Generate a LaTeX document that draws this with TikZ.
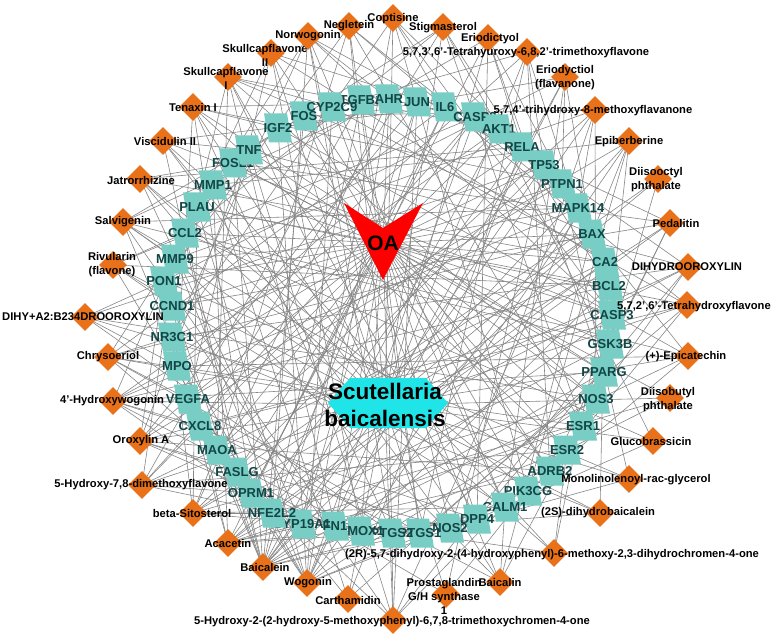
\documentclass[tikz,border=0pt]{standalone}
\usepackage{fontspec}
\setmainfont{Liberation Sans}
\usetikzlibrary{shapes.geometric}
\definecolor{edgec}{RGB}{135,135,135}
\definecolor{orng}{HTML}{E8711A}
\definecolor{tealbox}{HTML}{78CDC4}
\definecolor{tealtxt}{HTML}{124646}
\definecolor{cyanfill}{HTML}{20E5E8}
\definecolor{oared}{HTML}{FF0000}
\pgfdeclarelayer{back}
\pgfdeclarelayer{bg}
\pgfsetlayers{back,bg,main}
\tikzset{
  edge/.style={draw=edgec, line width=0.6pt},
  cmpd/.style={diamond, fill=orng, minimum width=28pt, minimum height=28pt, inner sep=0pt, shape aspect=1},
  clab/.style={font=\fontsize{11.2}{14}\selectfont\bfseries, text=black, align=center, inner sep=0pt},
  tlab/.style={font=\fontsize{13}{14}\selectfont\bfseries, text=tealtxt, inner sep=0pt},
  tbox/.style={fill=tealbox},
  hublab/.style={font=\fontsize{22.5}{27}\selectfont\bfseries, text=black, align=center, inner sep=0pt},
  oalab/.style={font=\fontsize{21}{24}\selectfont\bfseries, text=black, inner sep=0pt},
}
\newcommand\tgt[4]{%
  \fill[tbox] (#2-14,#3-14.5) -- (#2+9,#3-14.5) -- (#2+14,#3+14.5) -- (#2-9,#3+14.5) -- cycle;
  \node[tlab] (#1) at (#2,#3) {#4};}
\newcommand\cmp[6]{%
  \node[cmpd] (#1) at (#2,#3) {};
  \node[clab] (#1l) at (#4,#5) {#6};}
\begin{document}
\begin{tikzpicture}[x=1pt,y=-1pt]
\useasboundingbox (0,0) rectangle (776,639);
\begin{pgfonlayer}{back}
\fill[white] (0,0) rectangle (776,639);
\end{pgfonlayer}
% targets
\tgt{t48}{361}{100}{TGFB1}
\tgt{t1}{389}{99}{AHR}
\tgt{t2}{417}{102}{JUN}
\tgt{t3}{445}{107}{IL6}
\tgt{t4}{475}{117}{CASP8}
\tgt{t5}{499}{129}{AKT1}
\tgt{t6}{522}{147}{RELA}
\tgt{t7}{544}{165}{TP53}
\tgt{t8}{562}{184}{PTPN1}
\tgt{t9}{578}{208}{MAPK14}
\tgt{t10}{592}{234}{BAX}
\tgt{t11}{605}{262}{CA2}
\tgt{t12}{609}{286}{BCL2}
\tgt{t13}{612}{315}{CASP3}
\tgt{t14}{610}{344}{GSK3B}
\tgt{t15}{604}{372}{PPARG}
\tgt{t16}{596}{399}{NOS3}
\tgt{t17}{583}{426}{ESR1}
\tgt{t18}{567}{450}{ESR2}
\tgt{t19}{550}{471}{ADRB2}
\tgt{t20}{528}{491}{PIK3CG}
\tgt{t21}{505}{507}{CALM1}
\tgt{t22}{477}{519}{DPP4}
\tgt{t23}{450}{528}{NOS2}
\tgt{t24}{420}{533}{PTGS1}
\tgt{t25}{392}{533}{PTGS2}
\tgt{t26}{361}{531}{HMOX1}
\tgt{t27}{335}{526}{FN1}
\tgt{t28}{302}{524}{CYP19A1}
\tgt{t29}{272}{513}{NFE2L2}
\tgt{t30}{251}{493}{OPRM1}
\tgt{t31}{237}{472}{FASLG}
\tgt{t32}{217}{450}{MAOA}
\tgt{t33}{200}{426}{CXCL8}
\tgt{t34}{188}{399}{VEGFA}
\tgt{t35}{177}{366}{MPO}
\tgt{t36}{172}{337}{NR3C1}
\tgt{t37}{172}{306}{CCND1}
\tgt{t38}{164}{281}{PON1}
\tgt{t39}{175}{259}{MMP9}
\tgt{t40}{185}{233}{CCL2}
\tgt{t41}{197}{207}{PLAU}
\tgt{t42}{213}{185}{MMP1}
\tgt{t43}{233}{163}{FOSL1}
\tgt{t44}{249}{150}{TNF}
\tgt{t45}{278}{128}{IGF2}
\tgt{t46}{304}{116}{FOS}
\tgt{t47}{332}{107}{CYP2C9}
% compounds
\cmp{c1}{393}{18}{393}{19}{Coptisine}
\cmp{c2}{443}{27}{443}{28}{Stigmasterol}
\cmp{c3}{488}{38}{490}{39}{Eriodictyol}
\cmp{c4}{527}{52}{526}{53}{5,7,3',6'-Tetrahyuroxy-6,8,2'-trimethoxyflavone}
\cmp{c5}{565}{77}{565}{78}{Eriodyctiol\\(flavanone)}
\cmp{c6}{595}{110}{593}{111}{5,7,4'-trihydroxy-8-methoxyflavanone}
\cmp{c7}{629}{141}{629}{142}{Epiberberine}
\cmp{c8}{658}{179}{656}{180}{Diisooctyl\\phthalate}
\cmp{c9}{670}{223}{676}{223}{Pedalitin}
\cmp{c10}{688}{267}{687}{267}{DIHYDROOROXYLIN}
\cmp{c11}{687}{305}{694}{307}{5,7,2',6'-Tetrahydroxyflavone}
\cmp{c12}{688}{356}{686}{357}{(+)-Epicatechin}
\cmp{c13}{670}{398}{668}{400}{Diisobutyl\\phthalate}
\cmp{c14}{653}{441}{651}{441}{Glucobrassicin}
\cmp{c15}{629}{479}{636}{480}{Monolinolenoyl-rac-glycerol}
\cmp{c16}{600}{513}{598}{513}{(2S)-dihydrobaicalein}
\cmp{c17}{554}{553}{552}{555}{(2R)-5,7-dihydroxy-2-(4-hydroxyphenyl)-6-methoxy-2,3-dihydrochromen-4-one}
\cmp{c18}{500}{582}{500}{582}{Baicalin}
\cmp{c19}{446}{594}{444}{596}{Prostaglandin\\G/H synthase\\1}
\cmp{c20}{393}{620}{392}{622}{5-Hydroxy-2-(2-hydroxy-5-methoxyphenyl)-6,7,8-trimethoxychromen-4-one}
\cmp{c21}{348}{599}{348}{600}{Carthamidin}
\cmp{c22}{307}{583}{308}{583}{Wogonin}
\cmp{c23}{263}{567}{265}{567}{Baicalein}
\cmp{c24}{228}{543}{228}{543}{Acacetin}
\cmp{c25}{193}{513}{192}{513}{beta-Sitosterol}
\cmp{c26}{142}{485}{141}{485}{5-Hydroxy-7,8-dimethoxyflavone}
\cmp{c27}{140}{441}{141}{441}{Oroxylin A}
\cmp{c28}{113}{401}{112}{401}{4'-Hydroxywogonin}
\cmp{c29}{108}{357}{108}{357}{Chrysoeriol}
\cmp{c30}{85}{317}{83}{317}{DIHY+A2:B234DROOROXYLIN}
\cmp{c31}{113}{265}{112}{265}{Rivularin\\(flavone)}
\cmp{c32}{123}{222}{123}{222}{Salvigenin}
\cmp{c33}{140}{179}{141}{180}{Jatrorrhizine}
\cmp{c34}{163}{141}{165}{141}{Viscidulin II}
\cmp{c35}{193}{107}{193}{107}{Tenaxin I}
\cmp{c36}{228}{77}{226}{78}{Skullcapflavone\\I}
\cmp{c37}{271}{53}{265}{55}{Skullcapflavone\\II}
\cmp{c38}{308}{36}{308}{36}{Norwogonin}
\cmp{c39}{349}{26}{349}{26}{Negletein}
% hubs
\fill[oared] (344,203) -- (383,228) -- (423,203) -- (383,280) -- cycle;
\node[oalab] (oa) at (383,243) {OA};
\fill[cyanfill] (328,403) -- (350,378) -- (426,378) -- (448,403) -- (426,428) -- (350,428) -- cycle;
\node[hublab] (sb) at (385,405) {Scutellaria\\baicalensis};
% edges
\begin{pgfonlayer}{bg}
\foreach \i in {1,...,48} {\draw[edge] (oa.center) -- (t\i.center);}
\foreach \i in {1,...,39} {\draw[edge] (sb.center) -- (c\i.center);}
\foreach \c/\L in {
 1/{3,8,13,20,28,36},
 2/{5,12,17,33,40,44},
 3/{6,11,15,22,30,41},
 4/{7,13,19,24,35,47},
 5/{8,14,21,27,38,45},
 6/{9,16,23,32,39,46},
 7/{10,15,20,26,34,42},
 8/{14,31},
 9/{2,14,19,29,37,43},
 10/{4,16,22,30,36,44},
 11/{3,18,24,33,41,47},
 12/{6,20,27,35,40,45},
 13/{18,29,43},
 14/{5,22,40},
 15/{8,23,38},
 16/{11,26,36},
 17/{12,18,29,42},
 18/{10,17,21,33,39,46},
 19/{7,20,31},
 20/{2,9,14,17,25,31,37,44},
 21/{6,15,34,42},
 22/{1,4,9,12,16,20,23,27,30,33,36,39,41,45,47},
 23/{2,5,7,10,13,15,18,21,24,26,28,31,32,35,38,40,43,46,48},
 24/{3,6,11,14,17,19,22,25,28,34,37,42},
 25/{1,7,10,16,21,24,29,32,36,41},
 26/{4,11,18,26,30,33,39,48},
 27/{2,8,13,19,23,27,31,34,38,44},
 28/{5,9,12,15,22,26,29,33,35,41},
 29/{3,10,17,24,28,34,36,43},
 30/{7,16,25,35,38},
 31/{4,12,21,30,37,40},
 32/{1,9,14,19,27,32,39,46},
 33/{6,11,20,28,40,43},
 34/{3,13,23,31,42,44},
 35/{2,8,15,18,25,30,35,45},
 36/{5,10,16,22,27,32,37,47},
 37/{4,11,19,26,34,41},
 38/{1,7,13,21,25,29,36,42},
 39/{3,9,17,24,32,38}}
 {\foreach \t in \L {\draw[edge] (c\c.center) -- (t\t.center);}}
\end{pgfonlayer}
\end{tikzpicture}
\end{document}
